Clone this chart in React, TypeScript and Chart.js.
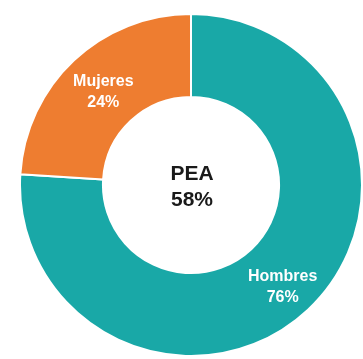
import React, { useEffect, useRef } from "react";
import { Chart, registerables } from "chart.js";

Chart.register(...registerables);

const categories = ["Hombres", "Mujeres"];
const values = [76, 24];
const centerLines = ["PEA", "58%"];
const colors = ["#19A8A7", "#EE7D30"];

const FONT = '"Liberation Sans", Arial, sans-serif';
// small visual nudges for slice label placement (styling only)
const labelNudge = [
  { dx: 3, dy: 7 },
  { dx: 1, dy: 1 },
];

const labelPlugin = {
  id: "sliceLabels",
  afterDatasetsDraw(chart: any) {
    const ctx = chart.ctx;
    const meta = chart.getDatasetMeta(0);
    ctx.save();
    ctx.textAlign = "center";
    ctx.textBaseline = "middle";
    meta.data.forEach((arc: any, i: number) => {
      const p = arc.getCenterPoint();
      const n = labelNudge[i] || { dx: 0, dy: 0 };
      const x = p.x + n.dx;
      const y = p.y + n.dy;
      ctx.fillStyle = "#FFFFFF";
      ctx.font = `bold 16px ${FONT}`;
      ctx.fillText(categories[i], x, y - 10);
      ctx.fillText(`${values[i]}%`, x, y + 11);
    });
    const first = meta.data[0];
    if (first) {
      const cx = first.x + 1;
      const cy = first.y + 2;
      ctx.fillStyle = "#1A1A1A";
      ctx.font = `bold 21px ${FONT}`;
      ctx.fillText(centerLines[0], cx, cy - 12.5);
      ctx.fillText(centerLines[1], cx, cy + 13);
    }
    ctx.restore();
  },
};

export default function App() {
  const ref = useRef<HTMLCanvasElement | null>(null);
  useEffect(() => {
    if (!ref.current) return;
    const chart = new Chart(ref.current, {
      type: "doughnut",
      data: {
        labels: categories,
        datasets: [
          {
            data: values,
            backgroundColor: colors,
            borderColor: "#FFFFFF",
            borderWidth: 2,
          },
        ],
      },
      options: {
        responsive: false,
        animation: false,
        cutout: "51.5%",
        layout: { padding: 0 },
        plugins: {
          legend: { display: false },
          tooltip: { enabled: false },
        },
      },
      plugins: [labelPlugin],
    });
    return () => chart.destroy();
  }, []);
  return (
    <div
      style={{
        position: "absolute",
        left: 0,
        top: 0,
        width: 363,
        height: 359,
        overflow: "hidden",
        background: "#FFFFFF",
      }}
    >
      <canvas
        ref={ref}
        width={344}
        height={344}
        style={{ position: "absolute", left: 19, top: 13, width: 344, height: 344 }}
      />
    </div>
  );
}
